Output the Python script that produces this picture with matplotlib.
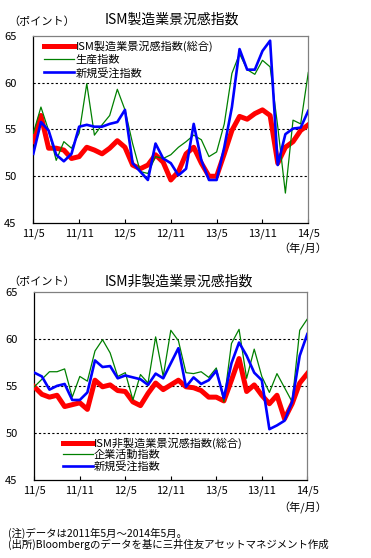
import matplotlib
matplotlib.use("Agg")
import matplotlib.pyplot as plt
import numpy as np

plt.rcParams['font.family'] = ['Noto Sans CJK JP', 'DejaVu Sans']

months = list(range(37))
tick_pos = [0, 6, 12, 18, 24, 30, 36]
tick_labels = ["11/5", "11/11", "12/5", "12/11", "13/5", "13/11", "14/5"]

# ISM Manufacturing
mfg_total = [53.7, 56.5, 53.0, 53.0, 52.8, 51.9, 52.1, 53.1, 52.8, 52.4, 53.0, 53.8,
             53.1, 51.2, 50.8, 51.2, 52.3, 51.5, 49.6, 50.5, 52.4, 53.1, 51.4, 50.0,
             50.0, 52.4, 54.9, 56.4, 56.1, 56.7, 57.1, 56.5, 51.4, 53.1, 53.7, 54.9, 55.5]
mfg_prod = [54.6, 57.4, 54.9, 51.7, 53.7, 53.0, 54.6, 59.9, 54.4, 55.5, 56.5, 59.3,
            57.1, 53.5, 50.5, 50.3, 52.1, 51.9, 52.3, 53.1, 53.7, 54.4, 53.9, 52.1,
            52.6, 55.6, 61.0, 63.1, 61.4, 60.9, 62.4, 61.7, 55.3, 48.2, 56.0, 55.6, 61.1]
mfg_orders = [52.4, 55.8, 54.9, 52.3, 51.6, 52.4, 55.3, 55.5, 55.3, 55.3, 55.6, 55.8,
              57.1, 51.4, 50.5, 49.6, 53.5, 51.9, 51.4, 50.1, 50.8, 55.6, 51.7, 49.6,
              49.6, 53.1, 57.4, 63.6, 61.4, 61.4, 63.4, 64.5, 51.2, 54.5, 55.1, 55.2, 57.0]

# ISM Non-Manufacturing
nmf_total = [54.9, 54.1, 53.8, 54.0, 52.8, 53.0, 53.2, 52.5, 55.6, 54.9, 55.1, 54.5,
             54.4, 53.3, 52.9, 54.2, 55.3, 54.6, 55.1, 55.6, 54.9, 54.8, 54.5, 53.8,
             53.8, 53.4, 55.6, 57.9, 54.4, 55.1, 54.0, 53.1, 54.0, 51.5, 53.1, 55.3, 56.3]
nmf_activity = [54.9, 55.7, 56.5, 56.5, 56.8, 53.8, 56.0, 55.5, 58.7, 59.9, 58.5, 56.0,
                56.4, 53.5, 56.2, 55.3, 60.2, 56.0, 60.9, 59.8, 56.4, 56.3, 56.5, 55.9,
                56.9, 53.3, 59.5, 61.0, 55.8, 58.9, 56.0, 54.3, 56.3, 54.8, 53.3, 60.9, 62.1]
nmf_orders = [56.4, 56.0, 54.6, 55.0, 55.2, 53.5, 53.5, 54.3, 57.7, 57.0, 57.1, 55.8,
              56.1, 55.9, 55.7, 55.1, 56.3, 55.8, 57.4, 59.0, 54.9, 55.9, 55.2, 55.6,
              56.6, 53.7, 57.4, 59.6, 58.2, 56.4, 55.6, 50.4, 50.8, 51.3, 53.3, 58.2, 60.5]

W, H = 371, 558
fig = plt.figure(figsize=(W / 100, H / 100), dpi=100)

def px(x0, y0, x1, y1):
    return [x0 / W, 1 - y1 / H, (x1 - x0) / W, (y1 - y0) / H]

def setup(ax):
    ax.set_xlim(0, 36)
    ax.set_ylim(45, 65)
    ax.set_yticks([45, 50, 55, 60, 65])
    ax.set_xticks(tick_pos)
    ax.set_xticklabels(tick_labels, fontsize=8)
    ax.tick_params(axis='y', length=0, pad=12, labelsize=8)
    ax.tick_params(axis='x', direction='in', length=3, pad=4, width=0.8)
    for v in [50, 55, 60]:
        ax.axhline(v, color='black', lw=0.8, ls=(0, (2, 2)), zorder=1)
    ax.spines['left'].set_color('black')
    ax.spines['bottom'].set_color('black')
    ax.spines['top'].set_color('#808080')
    ax.spines['right'].set_color('#808080')
    for s in ax.spines.values():
        s.set_linewidth(0.9)

ax1 = fig.add_axes(px(33.3, 36, 308.3, 223))
setup(ax1)
ax1.plot(months, mfg_total, color='#FF0000', lw=3.6, label='ISM製造業景況感指数(総合)', zorder=3)
ax1.plot(months, mfg_prod, color='#008000', lw=0.9, label='生産指数', zorder=3)
ax1.plot(months, mfg_orders, color='#0000FF', lw=1.9, label='新規受注指数', zorder=4)
ax1.legend(loc='upper left', bbox_to_anchor=(0.04, 0.975), frameon=False, fontsize=8,
           handlelength=2.7, handletextpad=0.1, labelspacing=0.22, borderpad=0, borderaxespad=0)
fig.text(42 / W, 1 - 22 / H, '（ポイント）', fontsize=8, ha='center', va='center')
fig.text(172 / W, 1 - 20 / H, 'ISM製造業景況感指数', fontsize=10, ha='center', va='center')
fig.text(303 / W, 1 - 249 / H, '（年/月）', fontsize=8, ha='center', va='center')

ax2 = fig.add_axes(px(34.3, 291.7, 307.3, 480))
setup(ax2)
ax2.plot(months, nmf_total, color='#FF0000', lw=3.6, label='ISM非製造業景況感指数(総合)', zorder=3)
ax2.plot(months, nmf_activity, color='#008000', lw=0.9, label='企業活動指数', zorder=3)
ax2.plot(months, nmf_orders, color='#0000FF', lw=1.9, label='新規受注指数', zorder=4)
ax2.legend(loc='upper left', bbox_to_anchor=(0.105, 0.225), frameon=False, fontsize=8,
           handlelength=2.7, handletextpad=0.1, labelspacing=0.05, borderpad=0, borderaxespad=0)
fig.text(42 / W, 1 - 282 / H, '（ポイント）', fontsize=8, ha='center', va='center')
fig.text(179 / W, 1 - 282 / H, 'ISM非製造業景況感指数', fontsize=10, ha='center', va='center')
fig.text(303 / W, 1 - 508 / H, '（年/月）', fontsize=8, ha='center', va='center')

fig.text(8 / W, 1 - 533 / H, '(注)データは2011年5月～2014年5月。', fontsize=7.5, ha='left', va='center')
fig.text(8 / W, 1 - 544 / H, '(出所)Bloombergのデータを基に三井住友アセットマネジメント作成', fontsize=7.5, ha='left', va='center')

fig.savefig('out.png', dpi=100)
